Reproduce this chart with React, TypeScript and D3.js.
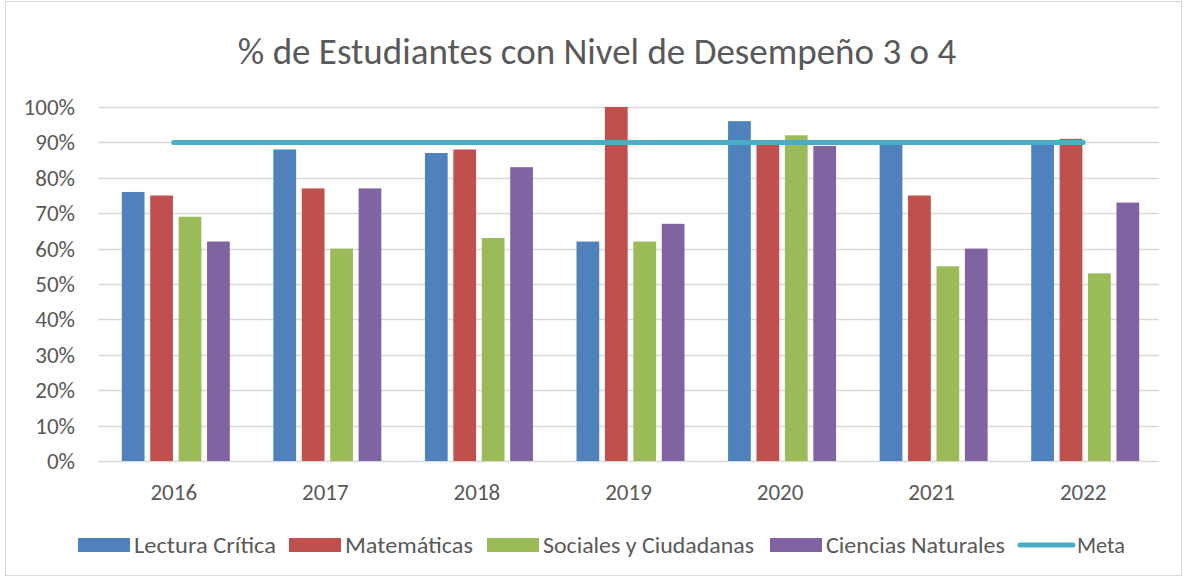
import React, { useEffect, useRef } from 'react'
import * as d3 from 'd3'

const years = ['2016', '2017', '2018', '2019', '2020', '2021', '2022']
const lectura = [76, 88, 87, 62, 96, 90, 90]
const matematicas = [75, 77, 88, 100, 90, 75, 91]
const sociales = [69, 60, 63, 62, 92, 55, 53]
const ciencias = [62, 77, 83, 67, 89, 60, 73]
const meta = [90, 90, 90, 90, 90, 90, 90]
const yTicks = [0, 10, 20, 30, 40, 50, 60, 70, 80, 90, 100]

const series = [
  { name: 'Lectura Crítica', values: lectura, color: '#4f81bd' },
  { name: 'Matemáticas', values: matematicas, color: '#c0504d' },
  { name: 'Sociales y Ciudadanas', values: sociales, color: '#9bbb59' },
  { name: 'Ciencias Naturales', values: ciencias, color: '#8064a2' },
]
const metaColor = '#4bacc6'

const App = () => {
  const svgRef = useRef<SVGSVGElement>(null)
  const W = 1187
  const H = 578

  useEffect(() => {
    const svg = d3.select(svgRef.current)
    svg.selectAll('*').remove()
    const font = 'Carlito, "Open Sans", "Noto Sans", sans-serif'
    const textColor = '#595959'

    svg
      .append('rect')
      .attr('x', 5.5)
      .attr('y', 1.5)
      .attr('width', 1176)
      .attr('height', 574)
      .style('fill', 'white')
      .style('stroke', '#d9d9d9')

    svg
      .append('text')
      .attr('x', 597)
      .attr('y', 64)
      .style('font', `37px ${font}`)
      .style('fill', textColor)
      .style('text-anchor', 'middle')
      .text('% de Estudiantes con Nivel de Desempeño 3 o 4')

    const left = 98
    const right = 1159
    const x = d3.scaleBand().domain(years).range([left, right])
    const y = d3.scaleLinear().domain([0, 100]).range([461, 107])
    const inner = d3
      .scaleBand()
      .domain(series.map((s) => s.name))
      .range([0, 108])
      .paddingInner(0.2)
    const groupOffset = (x.bandwidth() - 108) / 2 + 2

    // grid
    svg
      .append('g')
      .selectAll('line')
      .data(yTicks)
      .join('line')
      .attr('x1', left)
      .attr('x2', right)
      .attr('y1', (d) => Math.round(y(d)) + 0.5)
      .attr('y2', (d) => Math.round(y(d)) + 0.5)
      .style('stroke', '#d9d9d9')
      .style('stroke-width', 1.3)

    svg
      .append('g')
      .selectAll('text')
      .data(yTicks)
      .join('text')
      .attr('x', 75)
      .attr('y', (d) => y(d) + 8)
      .style('font', `23px ${font}`)
      .style('fill', textColor)
      .style('text-anchor', 'end')
      .text((d) => `${d}%`)

    // bars
    series.forEach((s) => {
      svg
        .append('g')
        .selectAll('rect')
        .data(s.values)
        .join('rect')
        .attr('x', (d, i) => (x(years[i]) as number) + groupOffset + (inner(s.name) as number))
        .attr('y', (d) => y(d))
        .attr('width', inner.bandwidth())
        .attr('height', (d) => y(0) - y(d))
        .style('fill', s.color)
    })

    // meta line
    const line = d3
      .line<number>()
      .x((d, i) => (x(years[i]) as number) + x.bandwidth() / 2)
      .y((d) => y(d))
    svg
      .append('path')
      .attr('d', line(meta))
      .style('fill', 'none')
      .style('stroke', metaColor)
      .style('stroke-width', 5)
      .style('stroke-linecap', 'round')

    // x labels
    svg
      .append('g')
      .selectAll('text')
      .data(years)
      .join('text')
      .attr('x', (d) => (x(d) as number) + x.bandwidth() / 2)
      .attr('y', 500)
      .style('font', `23px ${font}`)
      .style('fill', textColor)
      .style('text-anchor', 'middle')
      .text((d) => d)

    // legend
    const legendY = 545
    const starts = [78, 289, 487, 770]
    const widths = [142, 128, 211, 179]
    series.forEach((s, i) => {
      svg
        .append('rect')
        .attr('x', starts[i])
        .attr('y', legendY - 7)
        .attr('width', 52)
        .attr('height', 14)
        .style('fill', s.color)
      svg
        .append('text')
        .attr('x', starts[i] + 56)
        .attr('y', legendY + 8)
        .attr('textLength', widths[i])
        .attr('lengthAdjust', 'spacingAndGlyphs')
        .style('font', `23px ${font}`)
        .style('fill', textColor)
        .text(s.name)
    })
    svg
      .append('line')
      .attr('x1', 1020)
      .attr('x2', 1073)
      .attr('y1', legendY)
      .attr('y2', legendY)
      .style('stroke', metaColor)
      .style('stroke-width', 5)
      .style('stroke-linecap', 'round')
    svg
      .append('text')
      .attr('x', 1077)
      .attr('y', legendY + 8)
      .attr('textLength', 48)
      .attr('lengthAdjust', 'spacingAndGlyphs')
      .style('font', `23px ${font}`)
      .style('fill', textColor)
      .text('Meta')
  }, [])

  return <svg ref={svgRef} width={W} height={H} style={{ position: 'absolute', left: 0, top: 0 }}></svg>
}

export default App
